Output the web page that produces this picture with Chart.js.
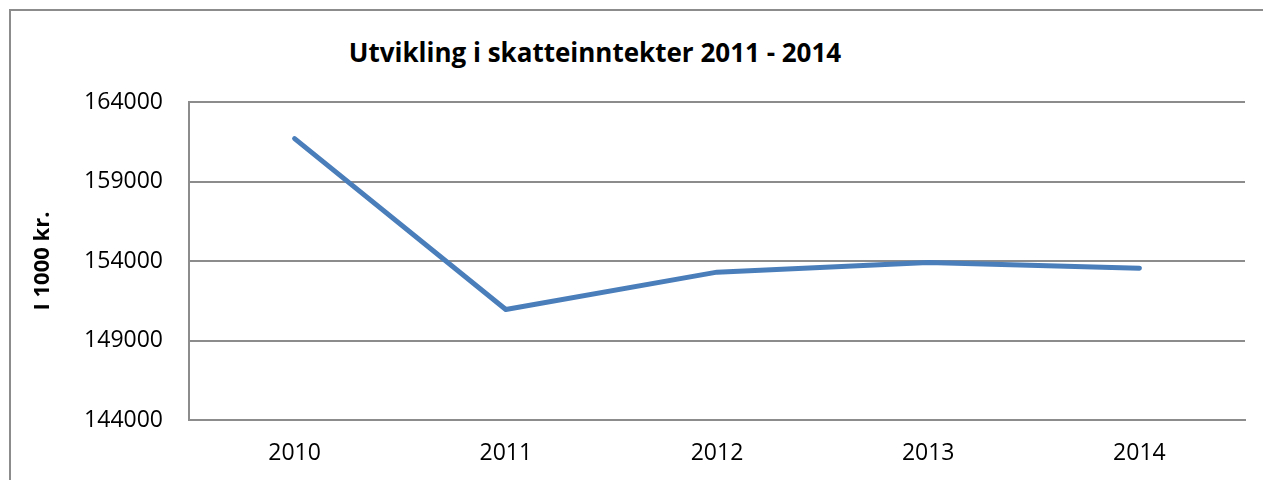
<!DOCTYPE html>
<html>
<head>
<meta charset="utf-8">
<script src="https://cdn.jsdelivr.net/npm/chart.js@4"></script>
<style>
  html, body { margin: 0; padding: 0; background: #fff; overflow: hidden; }
  #wrap { position: relative; width: 1263px; height: 480px; }
  #frame { position: absolute; left: 9px; top: 9px; width: 1300px; height: 520px;
           border-left: 2px solid #8c8c8c; border-top: 2px solid #8c8c8c; }
  #title { position: absolute; left: 0; width: 1190px; top: 35px; text-align: center;
           font: bold 26px "Open Sans", sans-serif; line-height: 34px; color: #000; }
  canvas { position: absolute; left: 0; top: 0; }
</style>
</head>
<body>
<div id="wrap">
  <div id="frame"></div>
  <div id="title">Utvikling i skatteinntekter 2011 - 2014</div>
  <canvas id="myChart" width="1263" height="480"></canvas>
</div>
<script>
const years = ['2010', '2011', '2012', '2013', '2014'];
const taxIncome = [161700, 150950, 153300, 153900, 153550];
const yTicks = [144000, 149000, 154000, 159000, 164000];
const yTitle = 'I 1000 kr.';

const gridGray = '#8c8c8c';
const labelFont = { family: '"Open Sans", sans-serif', size: 23 };

const ctx = document.getElementById('myChart').getContext('2d');
new Chart(ctx, {
  type: 'line',
  data: {
    labels: years,
    datasets: [{
      label: 'Skatteinntekter',
      data: taxIncome,
      borderColor: '#4a7ebb',
      borderWidth: 5,
      borderCapStyle: 'round',
      borderJoinStyle: 'round',
      pointRadius: 0,
      tension: 0
    }]
  },
  options: {
    responsive: false,
    animation: false,
    layout: { padding: { top: 102, right: 18, bottom: 0, left: 30 } },
    plugins: {
      legend: { display: false },
      title: { display: false },
      tooltip: { enabled: false }
    },
    scales: {
      x: {
        offset: true,
        grid: { drawOnChartArea: false, drawTicks: false },
        border: { display: true, color: gridGray, width: 2 },
        ticks: { color: '#000', font: labelFont, padding: 20 },
        afterFit: (scale) => { scale.height = 60; }
      },
      y: {
        min: yTicks[0],
        max: yTicks[yTicks.length - 1],
        afterBuildTicks: (scale) => { scale.ticks = yTicks.map(v => ({ value: v })); },
        grid: { color: gridGray, lineWidth: 2, drawTicks: false },
        border: { display: true, color: gridGray, width: 2 },
        ticks: { color: '#000', font: labelFont, padding: 26, callback: (v) => String(v) },
        title: {
          display: true,
          text: yTitle,
          color: '#000',
          font: { family: '"Open Sans", sans-serif', size: 22, weight: 'bold' },
          padding: 0
        },
        afterFit: (scale) => { scale.width = 189 - 30; }
      }
    }
  }
});
</script>
</body>
</html>
